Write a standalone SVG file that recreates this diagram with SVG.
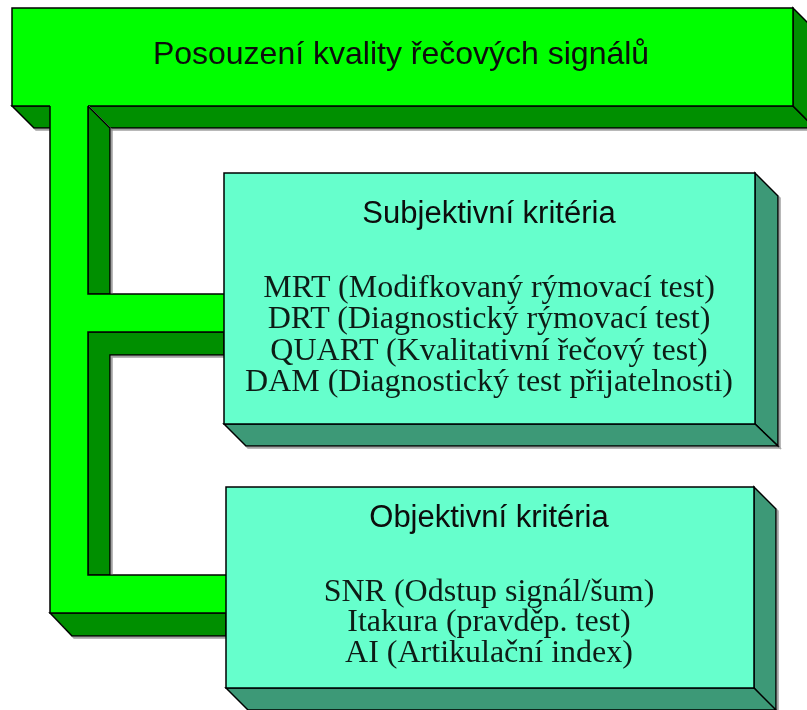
<svg xmlns="http://www.w3.org/2000/svg" width="807" height="710" viewBox="0 0 807 710">
  <style>
    .front-green { fill: #00ff00; }
    .side-green { fill: #008f00; stroke: #000; stroke-width: 1.5; stroke-linejoin: miter; }
    .front-teal { fill: #66ffcc; stroke: #000; stroke-width: 1.5; }
    .side-teal { fill: #3d9977; stroke: #000; stroke-width: 1.5; }
    .edge { fill: none; stroke: #000; stroke-width: 1.5; }
    .head { font-family: "Liberation Sans", Arial, sans-serif; font-size: 31px; fill: #0a0a0a; text-anchor: middle; }
    .title { font-size: 32px; }
    .body { font-family: "Liberation Serif", "Times New Roman", serif; font-size: 32px; fill: #0f1f18; text-anchor: middle; }
  </style>
  <defs>
    <filter id="shade" x="-5%" y="-5%" width="110%" height="110%">
      <feDropShadow dx="2" dy="2" stdDeviation="0.6" flood-color="#8a8a8a" flood-opacity="0.8"/>
    </filter>
  </defs>
  <rect width="807" height="710" fill="#fff"/>

  <!-- root block -->
  <g id="root" filter="url(#shade)">
    <polygon class="side-green" points="12,106 793,106 815,128 34,128"/>
    <polygon class="side-green" points="793,8 815,30 815,128 793,106"/>
    <rect x="12" y="8" width="781" height="98" class="front-green" stroke="#000" stroke-width="1.5"/>
    <text class="head title" x="401" y="64">Posouzení kvality řečových signálů</text>
  </g>

  <!-- connector bar joining the root to both criteria blocks -->
  <g id="connectors" filter="url(#shade)">
    <!-- extruded faces -->
    <polygon class="side-green" points="88,106 110,128 110,294 88,294"/>
    <polygon class="side-green" points="88,332 224,332 224,355 110,355 110,575 88,575"/>
    <polygon class="side-green" points="50,613 226,613 226,636 72,636"/>
    <!-- front face, open at the top where it joins the root -->
    <polygon class="front-green" points="50,104 88,104 88,294 224,294 224,332 88,332 88,575 226,575 226,613 50,613"/>
    <polyline class="edge" points="50,106 50,613 226,613"/>
    <polyline class="edge" points="88,106 88,294 224,294"/>
    <polyline class="edge" points="224,332 88,332 88,575 226,575"/>
  </g>

  <!-- subjective criteria block -->
  <g id="subjective" filter="url(#shade)">
    <polygon class="side-teal" points="755,173 778,196 778,446 755,424"/>
    <polygon class="side-teal" points="224,424 755,424 778,446 246,446"/>
    <rect x="224" y="173" width="531" height="251" class="front-teal"/>
    <text class="head" x="489" y="223">Subjektivní kritéria</text>
    <text class="body" x="489" y="297">MRT (Modifkovaný rýmovací test)</text>
    <text class="body" x="489" y="328">DRT (Diagnostický rýmovací test)</text>
    <text class="body" x="489" y="360">QUART (Kvalitativní řečový test)</text>
    <text class="body" x="489" y="391">DAM (Diagnostický test přijatelnosti)</text>
  </g>

  <!-- objective criteria block -->
  <g id="objective" filter="url(#shade)">
    <polygon class="side-teal" points="754,487 776,509 776,712 754,688"/>
    <polygon class="side-teal" points="226,688 754,688 776,710 248,710"/>
    <rect x="226" y="487" width="528" height="201" class="front-teal"/>
    <text class="head" x="489" y="527">Objektivní kritéria</text>
    <text class="body" x="489" y="601">SNR (Odstup signál/šum)</text>
    <text class="body" x="489" y="631">Itakura (pravděp. test)</text>
    <text class="body" x="489" y="662">AI (Artikulační index)</text>
  </g>
</svg>
